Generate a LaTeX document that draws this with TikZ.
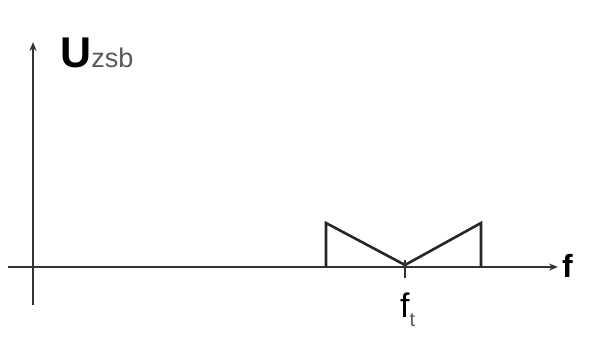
\documentclass[tikz,border=0pt]{standalone}
\usepackage{fontspec}
\setmainfont{Liberation Sans}
\usetikzlibrary{arrows.meta}
\begin{document}
\begin{tikzpicture}[x=1pt,y=-1pt,
  axis/.style={draw=black!80, line width=1.8pt, -{Stealth[length=9pt,width=7pt]}},
  spec/.style={draw=black!85, line width=2.6pt, line join=miter},
  lbl/.style={inner sep=0pt, text=black}]
\useasboundingbox (0,0) rectangle (600,362);
\coordinate (ybot) at (33,305);
\coordinate (ytop) at (33,42);
\coordinate (xl) at (8,267);
\coordinate (xr) at (558,267);
\draw[axis] (ybot) -- (ytop);
\draw[axis] (xl) -- (xr);
\coordinate (a0) at (326,267);
\coordinate (a1) at (326,223);
\coordinate (m) at (405,265);
\coordinate (b1) at (481,223);
\coordinate (b0) at (481,267);
\draw[spec] (a0) -- (a1) -- (m) -- (b1) -- (b0);
\coordinate (t0) at (405,260);
\coordinate (t1) at (405,278);
\draw[draw=black!80, line width=1.8pt] (t0) -- (t1);
\node[lbl, anchor=base west] (U) at (60,67) {\fontsize{43}{43}\selectfont\bfseries U\fontsize{27}{27}\selectfont\mdseries\color{black!65}zsb};
\node[lbl, anchor=base west] (f) at (562,277) {\fontsize{32}{32}\selectfont\bfseries f};
\node[lbl, anchor=base west] (ft) at (400,317) {\fontsize{34}{34}\selectfont f\raisebox{-9pt}{\fontsize{20}{20}\selectfont\color{black!65}t}};
\end{tikzpicture}
\end{document}
